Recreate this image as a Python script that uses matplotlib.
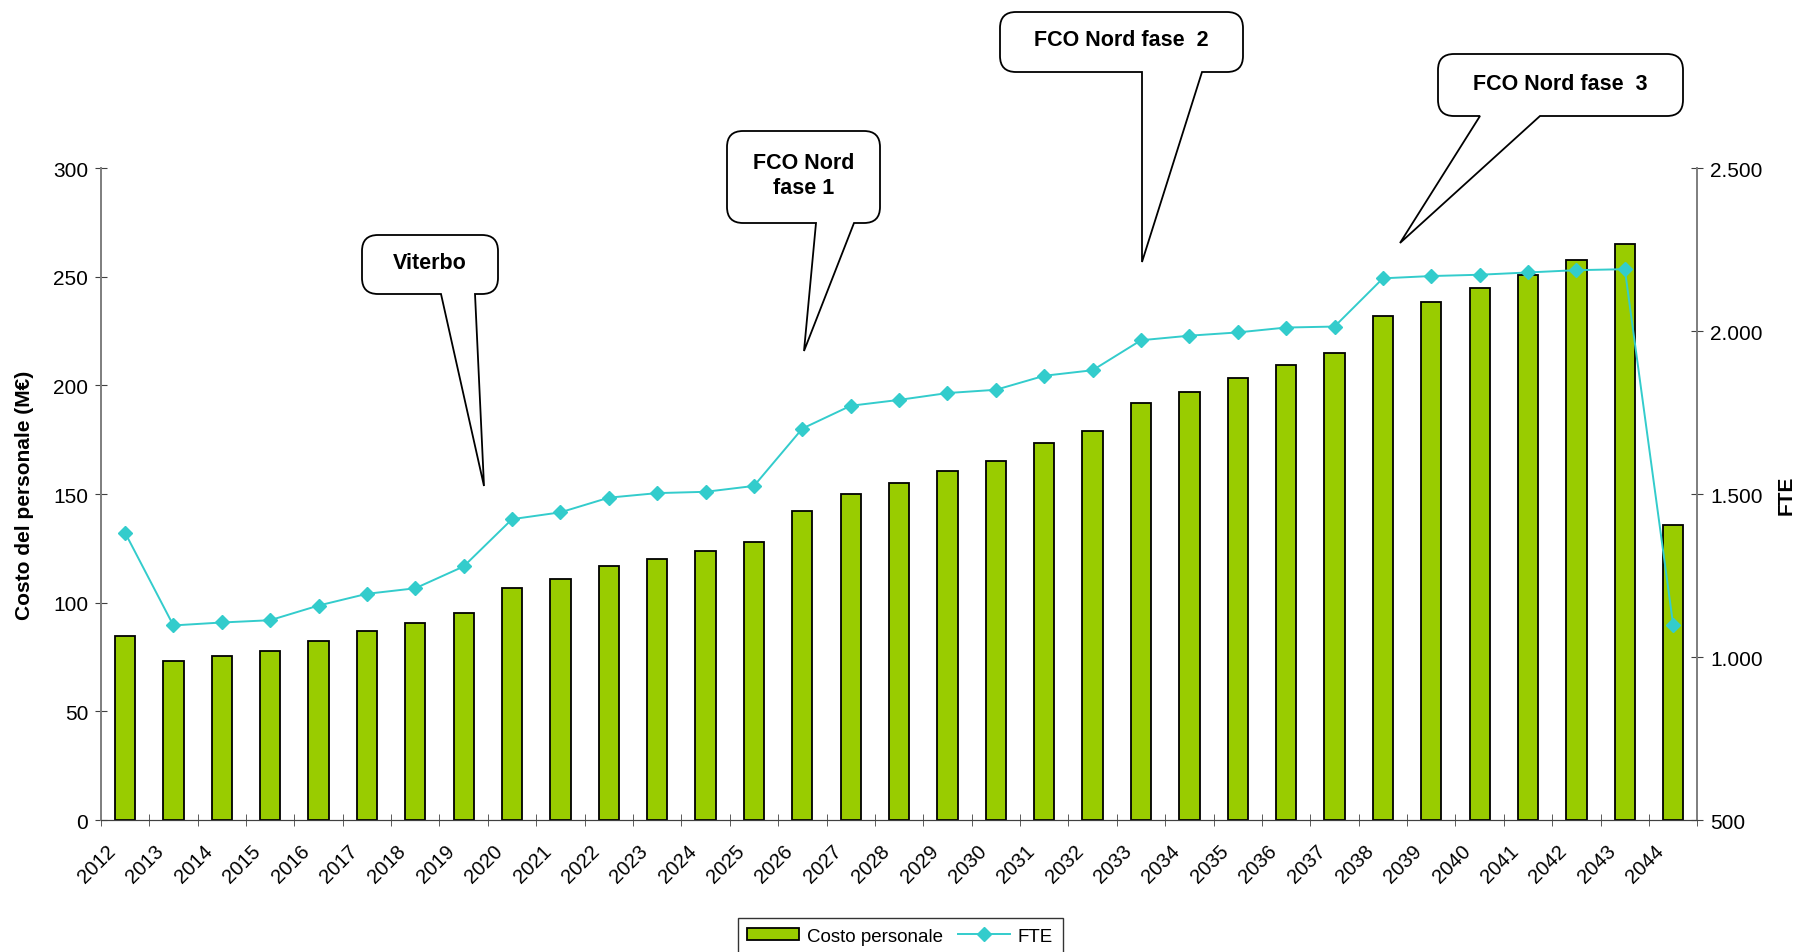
import matplotlib.pyplot as plt
import numpy as np
from matplotlib.path import Path
from matplotlib.patches import PathPatch
from matplotlib.transforms import ScaledTranslation
from matplotlib.ticker import FuncFormatter, MultipleLocator

plt.rcParams['font.family'] = ['Liberation Sans', 'DejaVu Sans']

anni = [str(a) for a in range(2012, 2045)]
costo_personale = [84.5, 73, 75.5, 78, 82.5, 87, 90.5, 95.5, 106.7, 111, 116.7, 120, 123.6,
                   127.8, 142, 150, 155, 160.5, 165.3, 173.3, 179, 191.8, 197, 203.4, 209.2,
                   215, 231.9, 238.2, 245, 251, 257.8, 265, 136]
fte = [1382, 1097, 1106, 1113, 1158, 1194, 1211, 1278, 1423, 1444, 1489, 1503, 1507, 1525,
       1701, 1771, 1789, 1810, 1820, 1863, 1880, 1972, 1986, 1996, 2011, 2014, 2162, 2169,
       2173, 2180, 2187, 2190, 1098]

# callouts: (testo, box x0, y0, x1, y1, base sx, base dx, punta) in pixel (y dall'alto)
callouts = [
    ("Viterbo", 362, 236, 498, 295, 441, 475, (484, 487)),
    ("FCO Nord\nfase 1", 727, 132, 880, 224, 816, 854, (804, 352)),
    ("FCO Nord fase  2", 1000, 13, 1243, 73, 1142, 1202, (1142, 263)),
    ("FCO Nord fase  3", 1438, 55, 1683, 117, 1480, 1540, (1400, 244)),
]

W, H = 1800, 953
fig = plt.figure(figsize=(W / 100, H / 100), dpi=100)
ax = fig.add_axes([0.056, 0.1385, 0.887, 0.684])
ax2 = ax.twinx()

x = np.arange(len(anni))
ax.bar(x, costo_personale, width=0.42, color='#99CC00', edgecolor='black',
       linewidth=1.3, label='Costo personale', zorder=2)
ax2.plot(x, fte, color='#33CCCC', lw=1.4, marker='D', markersize=7,
         markeredgecolor='#33CCCC', label='FTE')

ax.set_xlim(-0.5, len(anni) - 0.5)
ax.set_ylim(0, 300)
ax2.set_ylim(500, 2500)
ax.yaxis.set_major_locator(MultipleLocator(50))
ax2.yaxis.set_major_locator(MultipleLocator(500))
ax2.yaxis.set_major_formatter(FuncFormatter(lambda v, p: f"{v:,.0f}".replace(',', '.')))

ax.set_xticks(x, anni, rotation=45, ha='right', va='top', rotation_mode='anchor')
ax.set_xticks(np.arange(len(anni) + 1) - 0.5, minor=True)
ax.tick_params(axis='x', which='major', length=0, pad=15, labelsize=14.5)
ax.tick_params(axis='x', which='minor', direction='inout', length=8, color='#404040')
off = ScaledTranslation(-0.19, 0, fig.dpi_scale_trans)
for lab in ax.get_xticklabels():
    lab.set_transform(lab.get_transform() + off)

ax.tick_params(axis='y', direction='inout', length=8, labelsize=15, color='#404040', pad=5)
ax2.tick_params(axis='y', direction='inout', length=8, labelsize=15, color='#404040', pad=5)

for a in (ax, ax2):
    a.spines['top'].set_visible(False)
    a.spines['left'].set_color('#808080')
    a.spines['right'].set_color('#808080')
    a.spines['bottom'].set_color('#404040')
    a.spines['left'].set_linewidth(1.3)
    a.spines['right'].set_linewidth(1.3)

ax.set_ylabel("Costo del personale (M€)", fontsize=15, fontweight='bold')
ax.yaxis.set_label_coords(-0.042, 0.5)
ax2.set_ylabel("FTE", fontsize=15, fontweight='bold')
ax2.yaxis.set_label_coords(1.0495, 0.5)

h1, l1 = ax.get_legend_handles_labels()
h2, l2 = ax2.get_legend_handles_labels()
leg = fig.legend(h1 + h2, l1 + l2, loc='lower center', bbox_to_anchor=(0.5, -0.012),
                 ncol=2, fontsize=13.5, frameon=True, fancybox=False, edgecolor='black',
                 handlelength=2.8, handleheight=0.6, columnspacing=0.8, borderpad=0.5,
                 handletextpad=0.4)
leg.get_frame().set_linewidth(1.0)


def fp(px, py):
    return (px / W, 1 - py / H)


for testo, x0, y0, x1, y1, bl, br, tip in callouts:
    r = 16
    pts = [(bl, y1), tip, (br, y1), (x1 - r, y1), (x1, y1), (x1, y1 - r),
           (x1, y0 + r), (x1, y0), (x1 - r, y0), (x0 + r, y0), (x0, y0), (x0, y0 + r),
           (x0, y1 - r), (x0, y1), (x0 + r, y1), (bl, y1), (bl, y1)]
    codes = [Path.MOVETO, Path.LINETO, Path.LINETO, Path.LINETO, Path.CURVE3, Path.CURVE3,
             Path.LINETO, Path.CURVE3, Path.CURVE3, Path.LINETO, Path.CURVE3, Path.CURVE3,
             Path.LINETO, Path.CURVE3, Path.CURVE3, Path.LINETO, Path.CLOSEPOLY]
    path = Path([fp(*p) for p in pts], codes)
    fig.add_artist(PathPatch(path, facecolor='white', edgecolor='black', lw=1.3,
                             transform=fig.transFigure, zorder=5))
    cx, cy = fp((x0 + x1) / 2, (y0 + y1) / 2 - 2)
    fig.text(cx, cy, testo, ha='center', va='center', fontsize=15.5, fontweight='bold',
             zorder=6, linespacing=1.25)

fig.savefig("out.png", dpi=100)
